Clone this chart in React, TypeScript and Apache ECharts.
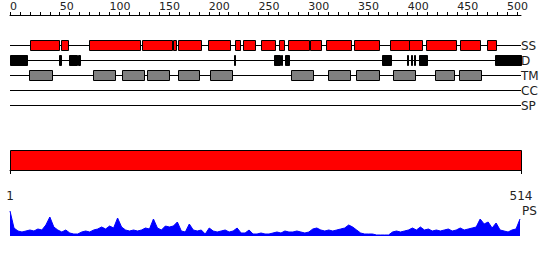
import React, { useEffect, useRef } from "react";
import * as echarts from "echarts";

const SEQ_LENGTH = 514;
const TRACKS = ["SS", "D", "TM", "CC", "SP"];
const TOP_TICK_LABELS = [0, 50, 100, 150, 200, 250, 300, 350, 400, 450, 500];
const TOP_MINOR_STEP = 10;
const BOTTOM_TICK_LABELS = [1, 514];

// [start, end] residue ranges per track
const SS_SEGMENTS = [
  [21, 50], [52, 59], [80, 131], [133, 163], [164, 167], [169, 193], [200, 222],
  [227, 232], [235, 247], [253, 267], [271, 276], [280, 301], [302, 313], [318, 344],
  [347, 372], [383, 402], [402, 415], [419, 449], [453, 473], [480, 489],
];
const D_SEGMENTS = [
  [1, 18], [50, 52], [60, 68], [69, 71], [226, 227], [266, 272], [273, 274], [277, 281],
  [375, 384], [400, 401], [404, 405], [407, 408], [412, 420], [488, 514],
];
const TM_SEGMENTS = [
  [20, 43], [84, 106], [113, 135], [138, 160], [169, 191], [202, 224], [283, 305],
  [320, 342], [349, 372], [386, 408], [428, 447], [452, 474],
];
const CC_SEGMENTS: number[][] = [];
const SP_SEGMENTS: number[][] = [];
const DOMAIN_SEGMENTS = [[1, 514]];

// profile sampled every PS_STEP residues starting at residue 1
const PS_STEP = 4;
const PS_VALUES = [
  25, 8, 5, 4, 5, 6, 5, 7, 6, 11,
  19, 9, 6, 4, 6, 3, 2, 2, 4, 5,
  4, 6, 7, 9, 7, 10, 8, 18, 9, 6,
  5, 6, 5, 6, 8, 7, 17, 8, 6, 10,
  9, 10, 14, 5, 4, 12, 6, 5, 6, 2,
  8, 5, 4, 5, 6, 4, 5, 8, 3, 3,
  6, 2, 2, 3, 2, 2, 3, 4, 3, 5,
  4, 4, 5, 4, 3, 4, 7, 8, 6, 5,
  6, 5, 6, 7, 8, 11, 9, 6, 3, 2,
  2, 2, 1, 1, 1, 1, 4, 5, 4, 5,
  6, 8, 6, 9, 6, 7, 5, 6, 5, 6,
  7, 5, 6, 8, 6, 7, 8, 9, 17, 12,
  14, 8, 13, 6, 5, 4, 6, 7, 17,
];
const PS_MAX = 25;

const FONT = "DejaVu Sans";
const TEXT_COLOR = "#222";

const TRACK_STYLES: Record<string, { fill: string; stroke: string }> = {
  SS: { fill: "#ff0000", stroke: "#000" },
  D: { fill: "#000000", stroke: "#000" },
  TM: { fill: "#808080", stroke: "#000" },
  CC: { fill: "#ffff00", stroke: "#000" },
  SP: { fill: "#00ff00", stroke: "#000" },
};
const TRACK_SEGMENTS: Record<string, number[][]> = {
  SS: SS_SEGMENTS,
  D: D_SEGMENTS,
  TM: TM_SEGMENTS,
  CC: CC_SEGMENTS,
  SP: SP_SEGMENTS,
};

const snap = (v: number) => Math.round(v - 0.5) + 0.5;

export default function App() {
  const ref = useRef<HTMLDivElement>(null);
  useEffect(() => {
    if (!ref.current) return;
    const chart = echarts.init(ref.current, undefined, { renderer: "svg" });

    const topTicks: number[] = [];
    for (let v = 0; v < SEQ_LENGTH; v += TOP_MINOR_STEP) topTicks.push(v);

    const featureSeries = TRACKS.map((name, ti) => ({
      type: "custom",
      xAxisIndex: 0,
      yAxisIndex: 0,
      z: 3,
      encode: { x: [0, 1], y: 2 },
      data: TRACK_SEGMENTS[name].map((s) => [s[0], s[1], ti]),
      renderItem: (_p: any, api: any) => {
        const p0 = api.coord([api.value(0), api.value(2)]);
        const p1 = api.coord([api.value(1), api.value(2)]);
        const h = Math.round(api.size([0, 1])[1] * 0.67);
        const x0 = snap(p0[0]);
        const x1 = snap(p1[0]);
        const y0 = snap(p0[1] - h / 2);
        return {
          type: "rect",
          shape: { x: x0, y: y0, width: Math.max(1, x1 - x0), height: h },
          style: { fill: TRACK_STYLES[name].fill, stroke: TRACK_STYLES[name].stroke, lineWidth: 1 },
        };
      },
    }));

    const option: any = {
      animation: false,
      backgroundColor: "#fff",
      grid: [
        { left: 10, width: 511, top: 38, height: 75 },
        { left: 10, width: 511, top: 150, height: 20 },
        { left: 10, width: 511, top: 211, height: 25 },
      ],
      xAxis: [
        {
          gridIndex: 0,
          type: "value",
          min: 0,
          max: SEQ_LENGTH,
          position: "top",
          offset: 23,
          axisLine: { show: true, lineStyle: { color: "#000", width: 1 } },
          axisTick: { show: true, length: 3, customValues: topTicks, lineStyle: { color: "#000" } },
          axisLabel: {
            show: true,
            customValues: TOP_TICK_LABELS,
            align: "left",
            margin: 3,
            fontFamily: FONT,
            fontSize: 11,
            color: TEXT_COLOR,
          },
          splitLine: { show: false },
        },
        {
          gridIndex: 1,
          type: "value",
          min: 1,
          max: SEQ_LENGTH,
          position: "bottom",
          offset: 10,
          axisLine: { show: true, lineStyle: { color: "#000", width: 1 } },
          axisTick: { show: true, length: 4, customValues: BOTTOM_TICK_LABELS, lineStyle: { color: "#000" } },
          axisLabel: {
            show: true,
            customValues: BOTTOM_TICK_LABELS,
            margin: 10,
            fontFamily: FONT,
            fontSize: 12,
            color: TEXT_COLOR,
          },
          splitLine: { show: false },
        },
        {
          gridIndex: 2,
          type: "value",
          min: 1,
          max: SEQ_LENGTH,
          show: false,
        },
      ],
      yAxis: [
        {
          gridIndex: 0,
          type: "category",
          data: TRACKS,
          inverse: true,
          position: "right",
          axisLine: { show: false },
          axisTick: { show: false },
          splitLine: { show: false },
          axisLabel: { interval: 0, margin: 0, fontFamily: FONT, fontSize: 12, color: TEXT_COLOR },
        },
        { gridIndex: 1, type: "value", min: 0, max: 1, show: false },
        {
          gridIndex: 2,
          type: "value",
          min: 0,
          max: PS_MAX,
          position: "right",
          axisLine: { show: false },
          axisTick: { show: false },
          splitLine: { show: false },
          axisLabel: {
            show: true,
            customValues: [PS_MAX],
            formatter: () => "PS",
            margin: 1,
            fontFamily: FONT,
            fontSize: 12,
            color: TEXT_COLOR,
          },
        },
      ],
      series: [
        {
          type: "custom",
          xAxisIndex: 0,
          yAxisIndex: 0,
          z: 2,
          encode: { x: [0, 1], y: 2 },
          data: TRACKS.map((_, i) => [0, SEQ_LENGTH, i]),
          renderItem: (_p: any, api: any) => {
            const p0 = api.coord([api.value(0), api.value(2)]);
            const p1 = api.coord([api.value(1), api.value(2)]);
            const y = snap(p0[1]);
            return {
              type: "line",
              shape: { x1: p0[0], y1: y, x2: p1[0], y2: y },
              style: { stroke: "#000", lineWidth: 1 },
            };
          },
        },
        ...featureSeries,
        {
          type: "custom",
          xAxisIndex: 1,
          yAxisIndex: 1,
          encode: { x: [0, 1] },
          data: DOMAIN_SEGMENTS.map((s) => [s[0], s[1]]),
          renderItem: (_p: any, api: any) => {
            const p0 = api.coord([api.value(0), 1]);
            const p1 = api.coord([api.value(1), 0]);
            const x0 = snap(p0[0]);
            const x1 = snap(p1[0]);
            const y0 = snap(p0[1]);
            const y1 = snap(p1[1]);
            return {
              type: "rect",
              shape: { x: x0, y: y0, width: x1 - x0, height: y1 - y0 },
              style: { fill: "#ff0000", stroke: "#000", lineWidth: 1 },
            };
          },
        },
        {
          type: "line",
          xAxisIndex: 2,
          yAxisIndex: 2,
          showSymbol: false,
          symbol: "none",
          data: PS_VALUES.map((v, i) => [1 + i * PS_STEP, v]),
          lineStyle: { color: "#0000ff", width: 1 },
          areaStyle: { color: "#0000ff", opacity: 1 },
        },
      ],
    };
    chart.setOption(option);
    return () => chart.dispose();
  }, []);
  return (
    <div
      ref={ref}
      style={{ position: "fixed", left: 0, top: 0, width: 550, height: 260, background: "#fff" }}
    />
  );
}
